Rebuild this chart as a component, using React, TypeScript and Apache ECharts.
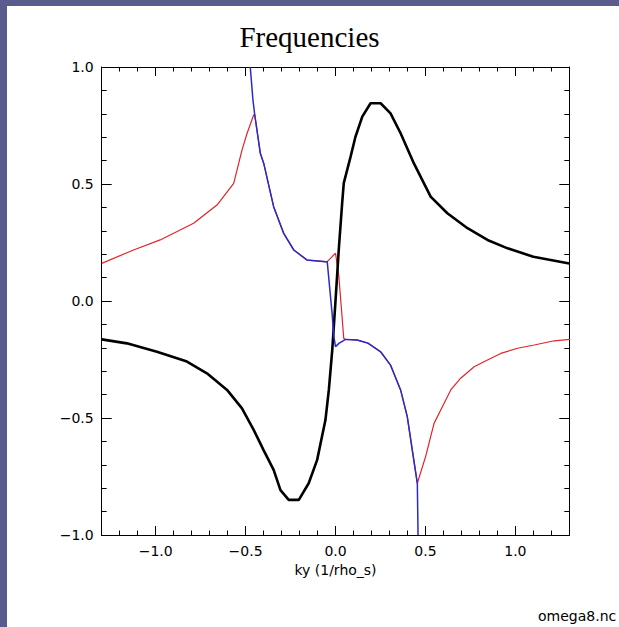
import React, { useEffect, useRef } from "react";
import * as echarts from "echarts";

const majorTicksX = [-1.0, -0.5, 0.0, 0.5, 1.0];
const minorTicksX = [-1.2, -1.1, -0.9, -0.8, -0.7, -0.6, -0.4, -0.3, -0.2, -0.1, 0.1, 0.2, 0.3, 0.4, 0.6, 0.7, 0.8, 0.9, 1.1, 1.2];

const blackSeries: [number, number][] = [
  [-1.3, -0.164], [-1.16, -0.181], [-0.993, -0.217], [-0.826, -0.259], [-0.715, -0.309],
  [-0.603, -0.38], [-0.52, -0.459], [-0.455, -0.551], [-0.4, -0.637], [-0.344, -0.722],
  [-0.306, -0.808], [-0.26, -0.85], [-0.204, -0.85], [-0.149, -0.779], [-0.102, -0.679],
  [-0.056, -0.509], [-0.037, -0.38], [-0.018, -0.209], [0.0, 0.0], [0.018, 0.218],
  [0.037, 0.418], [0.046, 0.504], [0.084, 0.617], [0.111, 0.702], [0.149, 0.788],
  [0.195, 0.845], [0.251, 0.845], [0.306, 0.802], [0.362, 0.717], [0.436, 0.588],
  [0.529, 0.446], [0.622, 0.375], [0.734, 0.311], [0.845, 0.261], [0.957, 0.225],
  [1.1, 0.189], [1.3, 0.16],
];

const redSeries: [number, number][] = [
  [-1.3, 0.161], [-1.123, 0.218], [-0.975, 0.261], [-0.789, 0.332], [-0.659, 0.41],
  [-0.566, 0.503], [-0.52, 0.645], [-0.492, 0.716], [-0.455, 0.795], [-0.449, 0.795],
  [-0.418, 0.631], [-0.399, 0.588], [-0.344, 0.403], [-0.288, 0.289], [-0.232, 0.218],
  [-0.158, 0.175], [-0.056, 0.168], [-0.046, 0.168], [-0.028, 0.182], [0.0, 0.204],
  [0.018, 0.111], [0.046, -0.16], [0.056, -0.164], [0.121, -0.167], [0.18, -0.18],
  [0.251, -0.217], [0.306, -0.274], [0.362, -0.38], [0.399, -0.494], [0.427, -0.637],
  [0.455, -0.779], [0.501, -0.665], [0.548, -0.523], [0.604, -0.437], [0.641, -0.38],
  [0.696, -0.33], [0.771, -0.281], [0.845, -0.252], [0.919, -0.224], [1.012, -0.202],
  [1.105, -0.188], [1.216, -0.17], [1.305, -0.164],
];

const blueSeries: [number, number][] = [
  [-0.474, 1.0], [-0.459, 0.859], [-0.449, 0.795], [-0.418, 0.631], [-0.399, 0.588],
  [-0.344, 0.403], [-0.288, 0.289], [-0.232, 0.218], [-0.158, 0.175], [-0.056, 0.168],
  [-0.046, 0.168], [-0.019, -0.053], [-0.009, -0.152], [0.0, -0.195], [0.019, -0.181],
  [0.056, -0.164], [0.121, -0.167], [0.18, -0.18], [0.251, -0.217], [0.306, -0.274],
  [0.362, -0.38], [0.399, -0.494], [0.427, -0.637], [0.455, -0.779], [0.459, -1.0],
];

const titleText = "Frequencies";
const xTitle = "ky (1/rho_s)";
const fileLabel = "omega8.nc";

const fmt = (v: number) => (v < 0 ? "\u2212" : "") + Math.abs(v).toFixed(1);
const labelFont = "DejaVu Sans";

export default function App() {
  const ref = useRef<HTMLDivElement>(null);
  useEffect(() => {
    document.body.style.margin = "0";
    const chart = echarts.init(ref.current!, undefined, { renderer: "svg" });
    const axisLine = { show: true, onZero: false, lineStyle: { color: "#000", width: 1 } };
    const baseX = { type: "value", min: -1.3, max: 1.3, splitLine: { show: false }, axisLine };
    const baseY = { type: "value", min: -1, max: 1, interval: 0.5, splitLine: { show: false }, axisLine };
    chart.setOption({
      animation: false,
      backgroundColor: "#5a5c8e",
      graphic: [
        { type: "rect", shape: { x: 7, y: 6, width: 612, height: 621 }, style: { fill: "#ffffff" }, z: -10 },
        { type: "text", left: 538, top: 609, style: { text: fileLabel, font: `14px ${labelFont}`, fill: "#000" } },
      ],
      title: {
        text: titleText,
        left: "center",
        top: 17,
        textStyle: { fontFamily: "Liberation Serif", fontSize: 29, fontWeight: "normal", color: "#000" },
      },
      grid: { left: 101.7, right: 49.7, top: 67, bottom: 92, containLabel: false },
      xAxis: [
        {
          ...baseX,
          position: "bottom",
          axisTick: { show: true, inside: true, length: 9, customValues: majorTicksX, lineStyle: { color: "#000" } },
          axisLabel: { show: true, customValues: majorTicksX, formatter: fmt, margin: 9, fontFamily: labelFont, fontSize: 14, color: "#000" },
          name: xTitle,
          nameLocation: "middle",
          nameGap: 28,
          nameTextStyle: { fontFamily: labelFont, fontSize: 14, color: "#000" },
        },
        {
          ...baseX,
          position: "bottom",
          axisTick: { show: true, inside: true, length: 4.5, customValues: minorTicksX, lineStyle: { color: "#000" } },
          axisLabel: { show: false },
        },
        {
          ...baseX,
          position: "top",
          axisTick: { show: true, inside: true, length: 9, customValues: majorTicksX, lineStyle: { color: "#000" } },
          axisLabel: { show: false },
        },
        {
          ...baseX,
          position: "top",
          axisTick: { show: true, inside: true, length: 4.5, customValues: minorTicksX, lineStyle: { color: "#000" } },
          axisLabel: { show: false },
        },
      ],
      yAxis: [
        {
          ...baseY,
          position: "left",
          axisTick: { show: true, inside: true, length: 10, lineStyle: { color: "#000" } },
          minorTick: { show: true, splitNumber: 5, length: 5, lineStyle: { color: "#000" } },
          axisLabel: { show: true, formatter: fmt, margin: 8, fontFamily: labelFont, fontSize: 14, color: "#000" },
        },
        {
          ...baseY,
          position: "right",
          axisTick: { show: true, inside: true, length: 10, lineStyle: { color: "#000" } },
          minorTick: { show: true, splitNumber: 5, length: 5, lineStyle: { color: "#000" } },
          axisLabel: { show: false },
        },
      ],
      series: [
        {
          type: "line", data: redSeries, xAxisIndex: 0, yAxisIndex: 0, showSymbol: false, symbol: "none",
          lineStyle: { color: "#e0242a", width: 1.2 }, z: 2,
        },
        {
          type: "line", data: blackSeries, xAxisIndex: 0, yAxisIndex: 0, showSymbol: false, symbol: "none",
          lineStyle: { color: "#000000", width: 2.6 }, z: 3,
        },
        {
          type: "line", data: blueSeries, xAxisIndex: 0, yAxisIndex: 0, showSymbol: false, symbol: "none",
          lineStyle: { color: "#2a2ac8", width: 1.5 }, z: 4,
        },
      ],
    });
    return () => chart.dispose();
  }, []);
  return <div ref={ref} style={{ position: "fixed", left: 0, top: 0, width: 619, height: 627 }} />;
}
